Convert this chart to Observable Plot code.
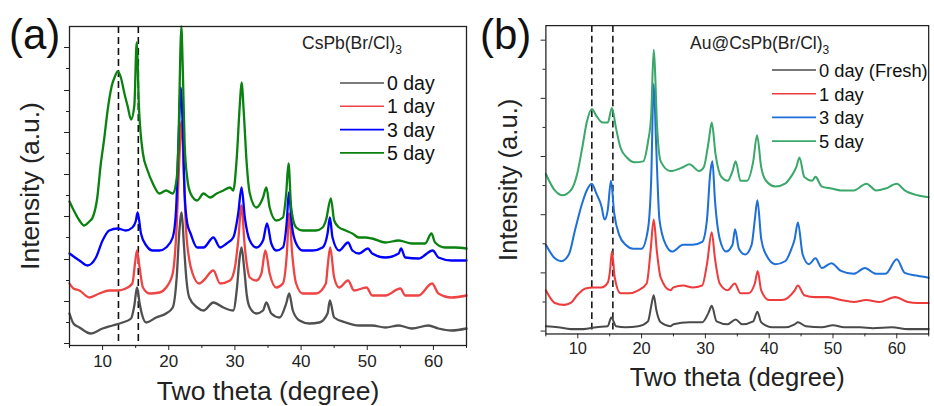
<!DOCTYPE html>
<html>
<head>
<meta charset="utf-8">
<script src="https://cdn.jsdelivr.net/npm/d3@7"></script>
<script src="https://cdn.jsdelivr.net/npm/@observablehq/plot@0.6"></script>
<style>
  html, body { margin: 0; padding: 0; background: #fff; overflow: hidden; }
  #wrap { position: relative; width: 934px; height: 406px; overflow: hidden; background: #fff;
          font-family: "Liberation Sans", Arial, sans-serif; }
  #wrap > .panel { position: absolute; top: 0; }
  #overlay { position: absolute; left: 0; top: 0; pointer-events: none; }
</style>
</head>
<body>
<div id="wrap">
  <div class="panel" id="pa" style="left:0px"></div>
  <div class="panel" id="pb" style="left:470px"></div>
  <svg id="overlay" width="934" height="406"></svg>
</div>
<script>
// ---------- data (2θ in degrees, intensity in a.u., curves already offset) ----------
const seriesNames = ["0 day", "1 day", "3 day", "5 day"];
const seriesNamesB = ["0 day (Fresh)", "1 day", "3 day", "5 day"];
const colorsA = ["#505050", "#ee4444", "#0000ff", "#0a820f"];
const colorsB = ["#4a4a4a", "#ee3b3b", "#1f6fd8", "#3aa86a"];
const titleA = "CsPb(Br/Cl)";
const titleB = "Au@CsPb(Br/Cl)";

const xMajor = [10, 20, 30, 40, 50, 60];
const xMinor = [5, 15, 25, 35, 45, 55, 65];
const yMajorA = [0, 42, 84, 127, 169, 211, 253, 296];
const yMinorA = [21, 63, 106, 148, 190, 232, 275];
const yMajorB = [0, 60, 120, 180, 240, 300];
const yMinorB = [30, 90, 150, 210, 270];
const dashA = [12.4, 15.4];
const dashB = [12.2, 15.5];

// Panel (a) CsPb(Br/Cl)3
const aDay0 = [[5,30],[5.6,20],[6.5,16],[8.2,10],[10,15],[11.5,18],[13,21],[14.3,25],[14.8,38],[15.2,56],[15.6,40],[16,28],[16.6,21],[18.1,26],[19.6,30],[20.6,36],[21.2,66],[21.6,112],[21.95,131],[22.3,98],[22.7,62],[23.1,46],[24.3,36],[25.25,33],[26.75,41],[28.25,36],[29.75,33],[30.3,55],[30.7,85],[31,96],[31.4,75],[31.8,48],[32.25,36],[33.25,30],[34.25,33],[34.75,41],[35.5,30],[36.75,26],[37.75,40],[38.2,50],[38.75,33],[39.75,23],[41.25,20],[42.75,21],[44,30],[44.35,43],[45,26],[46.75,21],[48.75,18],[50.75,18],[52.75,16],[54.75,18],[56.75,15],[59.25,18],[60.75,15],[62.75,13],[65,15]];
const aDay1 = [[5,60],[5.6,55],[6.5,53],[8,46],[9.5,50],[11,53],[12.3,53],[13.5,55],[14.5,60],[14.9,80],[15.2,93],[15.55,78],[16.1,56],[17.1,50],[18.6,51],[19.6,56],[20.6,70],[21.2,118],[21.6,185],[21.95,222],[22.25,175],[22.6,116],[23.1,84],[23.6,70],[24.6,60],[25.25,63],[26.75,73],[27.75,60],[29.25,63],[30,76],[30.5,103],[31,138],[31.45,100],[31.9,75],[32.25,66],[33.25,63],[34,70],[34.6,93],[35.25,70],[36.25,56],[37.25,60],[37.85,90],[38.2,130],[38.65,90],[39.25,60],[40.25,50],[42.25,50],[43.75,60],[44,76],[44.4,96],[45,66],[45.75,56],[47.1,63],[48,53],[49.9,56],[50.75,48],[52.75,48],[55,55],[55.75,48],[57.75,48],[59.8,60],[60.75,50],[62.75,46],[65,48]];
const aDay3 = [[5,90],[6.5,83],[7.7,78],[9,86],[10,103],[11,113],[12.3,115],[13.5,113],[14.5,116],[15,122],[15.3,131],[15.8,110],[16.6,98],[17.6,93],[18.6,93],[19.6,96],[20.6,106],[21.1,133],[21.5,206],[21.8,256],[22.1,220],[22.4,150],[22.8,120],[23.3,110],[24.3,96],[25.25,96],[26.75,106],[27.75,96],[28.75,100],[29.75,106],[30.5,130],[31,156],[31.5,126],[32.25,103],[33.25,96],[34.25,103],[34.85,120],[35.5,100],[36.25,93],[37.25,96],[37.85,123],[38.15,151],[38.65,116],[39.25,100],[40.25,93],[41.75,93],[43.25,96],[44,110],[44.35,126],[44.75,106],[45.75,93],[47.1,101],[47.75,93],[48.75,90],[50.1,95],[50.75,90],[52.75,86],[54.75,90],[55.1,95],[55.75,86],[57.75,85],[59.9,93],[60.75,86],[62.75,83],[65,83]];
const aDay5 = [[5,142],[5.5,135],[6.5,123],[7.2,118],[8,122],[8.5,126],[9.2,146],[9.7,178],[10.25,205],[10.7,230],[11,244],[11.4,258],[11.8,266],[12.3,272],[12.8,265],[13.3,250],[13.8,237],[14.3,224],[14.8,238],[15.15,301],[15.5,236],[16.1,190],[16.8,173],[17.6,160],[18.6,150],[19.6,153],[20.6,150],[21.2,165],[21.5,210],[21.75,290],[21.9,317],[22.1,280],[22.4,200],[22.8,165],[23.3,150],[24.3,143],[25.25,150],[26.25,146],[27.25,150],[28.25,153],[29.25,156],[29.75,153],[30.25,183],[30.75,240],[31,261],[31.35,230],[31.75,183],[32.25,150],[33.25,136],[34.25,146],[34.75,156],[35.25,136],[36.25,123],[37.25,126],[37.75,150],[38.1,180],[38.5,136],[39.25,116],[40.25,113],[41.25,113],[42.25,113],[43.25,116],[43.75,123],[44.5,145],[45,123],[45.75,116],[46.75,113],[47.75,110],[48.75,106],[49.75,106],[50.75,105],[52.75,101],[54.75,103],[56.75,100],[58.75,100],[59.7,110],[60.25,101],[61.75,96],[63.25,96],[65,95]];

// Panel (b) Au@CsPb(Br/Cl)3
const bDay0 = [[5,5],[6.9,4],[8.9,2],[10.9,2],[12.9,4],[14.7,5],[15.25,14],[16,5],[17.5,4],[19.5,5],[21,10],[21.6,29],[21.9,37],[22.3,22],[23,9],[24.5,5],[25,7],[27.5,9],[29.5,9],[30.5,19],[31,26],[31.75,10],[33.5,7],[34.75,12],[35.75,7],[37.5,10],[38.15,20],[38.75,9],[40.5,4],[42.5,4],[44,7],[44.5,9],[45.75,5],[48.25,4],[50,6],[51.75,4],[54.25,4],[56.25,3],[59.25,4],[61.75,2],[63.25,2],[65,2]];
const bDay1 = [[5,42],[6.4,29],[7.9,27],[8.9,29],[9.9,37],[11.2,44],[12.4,45],[13.7,45],[14.7,50],[15.05,62],[15.35,82],[15.8,55],[16.7,39],[18,39],[19.5,42],[20.8,49],[21.4,82],[21.9,115],[22.4,82],[23,55],[24.5,42],[25,45],[26.5,47],[28,45],[29.5,47],[30.25,69],[31,102],[31.5,75],[32.25,49],[33.5,42],[34.6,49],[35.5,39],[36.75,39],[37.75,49],[38.2,62],[38.75,42],[40,32],[42,32],[44,42],[44.5,47],[45.5,37],[47.25,35],[49.25,35],[51.25,32],[53.25,30],[55.25,32],[57.25,30],[59.75,35],[61.75,30],[63.25,29],[65,29]];
const bDay3 = [[5,89],[6.4,75],[7.4,72],[8.6,79],[9.6,105],[10.7,132],[11.4,145],[12.2,152],[12.9,142],[13.7,129],[14.2,115],[14.7,125],[15.2,155],[15.7,122],[16.5,99],[17.5,89],[18.7,85],[20,85],[21,105],[21.5,155],[21.9,255],[22.3,189],[22.8,115],[23.8,89],[24.8,82],[26.5,89],[28,89],[29.5,92],[30.25,115],[30.75,162],[31.1,175],[31.5,135],[32.25,95],[33.25,82],[34.25,89],[34.65,105],[35.25,85],[36.25,79],[37.25,89],[37.75,115],[38.15,135],[38.75,95],[39.5,79],[41,69],[42.5,72],[43.5,85],[44,95],[44.5,112],[45.25,79],[46.25,69],[47.25,75],[48.25,65],[49.75,70],[51.25,62],[53.25,59],[55,65],[56.75,59],[58.25,59],[60,74],[61.25,60],[63.25,57],[65,55]];
const bDay5 = [[5,162],[6.4,145],[7.6,140],[8.9,145],[9.9,162],[10.7,189],[11.4,215],[12.2,229],[12.9,222],[13.9,215],[14.7,215],[15.35,230],[16,209],[16.7,189],[17.7,179],[19,174],[20.25,175],[21,195],[21.5,222],[21.9,290],[22.1,270],[22.4,215],[23,175],[24.5,165],[26.5,169],[27.5,172],[29,165],[29.75,169],[30.5,195],[31,215],[31.6,182],[32.5,159],[33.5,155],[34.25,165],[34.75,175],[35.5,155],[36.5,155],[37.5,175],[38.1,202],[38.75,169],[39.5,155],[41,149],[42.5,152],[43.5,160],[44.25,169],[44.75,179],[45.5,159],[46.75,155],[47.25,159],[48.25,149],[49.75,147],[51.25,145],[53.25,145],[55.25,152],[56.75,145],[58.25,147],[60,152],[61.25,145],[63.25,140],[65,138]];

// ---------- drawing ----------
const FONT = "'Liberation Sans', Arial, sans-serif";

function panel({series, colors, yDomain, yMajor, yMinor, dash, width, marginLeft, marginRight, sw}) {
  const lines = series.map((s, i) =>
    Plot.line(s, {x: d => d[0], y: d => d[1], stroke: colors[i], strokeWidth: sw, curve: "monotone-x", strokeLinejoin: "round"}));
  return Plot.plot({
    width, height: 406,
    marginLeft, marginRight, marginTop: 26, marginBottom: 61,
    x: {domain: [5, 65]},
    y: {domain: yDomain},
    style: {fontFamily: FONT, fontSize: "17px", color: "#222", background: "transparent", overflow: "visible"},
    marks: [
      Plot.ruleX(dash, {stroke: "#111", strokeWidth: 1.6, strokeDasharray: "7,4"}),
      ...lines,
      Plot.frame({stroke: "#222", strokeWidth: 1.3}),
      Plot.axisX({ticks: xMajor, tickSize: 5, tickPadding: 4, label: null, fontSize: 17, stroke: "#222"}),
      Plot.axisX({ticks: xMinor, tickSize: 3, tickFormat: () => "", label: null, stroke: "#222"}),
      Plot.axisY({ticks: yMajor, tickSize: 5, tickFormat: () => "", label: null, stroke: "#222"}),
      Plot.axisY({ticks: yMinor, tickSize: 3, tickFormat: () => "", label: null, stroke: "#222"}),
      Plot.axisX({ticks: [], label: "Two theta (degree)", labelAnchor: "center", labelArrow: "none", labelOffset: 54, fontSize: 26.5}),
      Plot.axisY({ticks: [], label: "Intensity (a.u.)", labelAnchor: "center", labelArrow: "none", labelOffset: 49, fontSize: 26.5})
    ]
  });
}

document.getElementById("pa").appendChild(panel({
  series: [aDay0, aDay1, aDay3, aDay5], colors: colorsA,
  yDomain: [-2, 317], yMajor: yMajorA, yMinor: yMinorA, dash: dashA,
  width: 470, marginLeft: 69, marginRight: 4, sw: 2.3
}));
document.getElementById("pb").appendChild(panel({
  series: [bDay0, bDay1, bDay3, bDay5], colors: colorsB,
  yDomain: [-3, 315], yMajor: yMajorB, yMinor: yMinorB, dash: dashB,
  width: 480, marginLeft: 78, marginRight: 6, sw: 2.1
}));

// in-plot titles, legends and panel letters
const ov = d3.select("#overlay").style("font-family", FONT);
function decorate({letter, lx, title, tx, names, colors, sx0, sx1, ly0, ldy, fs}) {
  ov.append("text").attr("x", lx).attr("y", 49).attr("font-size", 42).attr("fill", "#111").text(letter);
  const t = ov.append("text").attr("x", tx).attr("y", 49).attr("font-size", 17.5).attr("fill", "#222");
  t.append("tspan").text(title);
  t.append("tspan").attr("dy", 5).attr("font-size", 12).text("3");
  names.forEach((n, i) => {
    const y = ly0 + i * ldy;
    ov.append("line").attr("x1", sx0).attr("x2", sx1).attr("y1", y).attr("y2", y)
      .attr("stroke", colors[i]).attr("stroke-width", 1.6);
    ov.append("text").attr("x", sx1 + 3).attr("y", y + 7).attr("font-size", fs).attr("fill", "#111").text(n);
  });
}
decorate({letter: "(a)", lx: 9, title: titleA, tx: 302, names: seriesNames, colors: colorsA,
          sx0: 340, sx1: 384, ly0: 83, ldy: 23.3, fs: 19.5});
decorate({letter: "(b)", lx: 480, title: titleB, tx: 690, names: seriesNamesB, colors: colorsB,
          sx0: 772, sx1: 816, ly0: 70, ldy: 23.7, fs: 18.3});
</script>
</body>
</html>
